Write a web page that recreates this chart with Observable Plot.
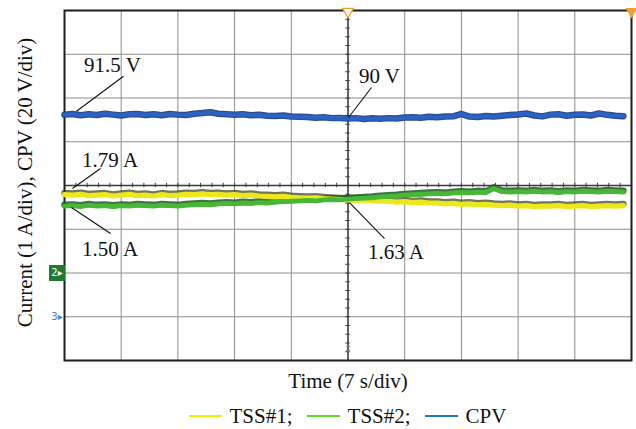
<!DOCTYPE html>
<html><head><meta charset="utf-8">
<script src="https://cdn.jsdelivr.net/npm/d3@7"></script>
<script src="https://cdn.jsdelivr.net/npm/@observablehq/plot@0.6"></script>
<style>
body{margin:0;background:#fff;font-family:"Liberation Serif","Times New Roman",serif;}
#wrap{position:relative;width:636px;height:429px;overflow:hidden;}
#legend{position:absolute;left:64px;width:567px;top:403px;height:26px;display:flex;justify-content:center;align-items:center;font-size:21px;color:#111;font-family:"Liberation Serif","Times New Roman",serif;}
.item{display:flex;align-items:center;margin:0 7px;}
.sw{width:33px;height:2px;margin-right:8px;}
</style></head><body><div id="wrap"><div id="chart"></div><div id="legend"></div></div>
<script>
// ---- data (read from the oscilloscope capture) ----
const sampleStep = 1;            // seconds between samples
const timeDivs = [0, 7, 14, 21, 28, 35, 42, 49, 56, 63, 70];   // 7 s/div
const levelDivs = [0, 1, 2, 3, 4, 5, 6, 7, 8];
const seriesNames = ["TSS#1", "TSS#2", "CPV"];
const seriesColors = ["#f2ec00", "#5fd62a", "#1f74d2"];
// TSS#1 current (A)
const tss1 = [1.79, 1.78, 1.80, 1.77, 1.78, 1.79, 1.76, 1.78, 1.80, 1.77,
              1.78, 1.76, 1.79, 1.77, 1.78, 1.80, 1.79, 1.81, 1.79, 1.80,
              1.78, 1.79, 1.77, 1.78, 1.76, 1.75, 1.74, 1.75, 1.73, 1.72,
              1.71, 1.72, 1.70, 1.69, 1.68, 1.67, 1.66, 1.67, 1.65, 1.64,
              1.64, 1.62, 1.63, 1.61, 1.62, 1.60, 1.60, 1.58, 1.59, 1.57,
              1.58, 1.56, 1.57, 1.55, 1.54, 1.55, 1.53, 1.54, 1.52, 1.53,
              1.53, 1.54, 1.52, 1.53, 1.54, 1.52, 1.53, 1.54, 1.53, 1.54];
// TSS#2 current (A)
const tss2 = [1.53, 1.54, 1.52, 1.55, 1.53, 1.54, 1.52, 1.54, 1.53, 1.55,
              1.54, 1.53, 1.55, 1.54, 1.53, 1.55, 1.56, 1.57, 1.56, 1.58,
              1.59, 1.58, 1.60, 1.59, 1.61, 1.60, 1.62, 1.63, 1.64, 1.65,
              1.66, 1.65, 1.67, 1.68, 1.67, 1.69, 1.70, 1.71, 1.72, 1.74,
              1.75, 1.76, 1.78, 1.79, 1.80, 1.81, 1.82, 1.81, 1.83, 1.84,
              1.83, 1.85, 1.84, 1.93, 1.86, 1.85, 1.86, 1.85, 1.87, 1.85,
              1.86, 1.84, 1.86, 1.85, 1.87, 1.86, 1.85, 1.87, 1.86, 1.85];
// CPV voltage (V)
const cpv = [92.4, 92.7, 92.1, 92.6, 92.2, 92.8, 92.4, 92.0, 92.6, 92.7,
             92.2, 92.6, 92.1, 92.7, 92.4, 92.2, 92.8, 93.1, 93.5, 92.8,
             92.6, 92.3, 92.6, 92.1, 92.3, 91.9, 91.8, 92.0, 91.5, 91.4,
             91.3, 91.0, 91.2, 90.8, 90.9, 90.6, 90.8, 90.4, 90.7, 90.5,
             90.8, 90.6, 91.1, 91.2, 91.0, 91.4, 91.2, 91.5, 91.6, 92.7,
             91.5, 91.3, 91.8, 91.5, 91.9, 92.2, 92.5, 92.9, 92.0, 91.6,
             92.4, 92.6, 91.9, 92.3, 92.5, 92.0, 92.9, 92.3, 91.9, 91.7];
// annotations: label, series, sample index
const annoText = ["91.5 V", "90 V", "1.79 A", "1.50 A", "1.63 A"];
const annoSeries = ["CPV", "CPV", "TSS#1", "TSS#2", "TSS#1"];
const annoIndex = [1, 35, 1, 1, 35];

// ---- layout ----
const W = 636, H = 395, mL = 64, mR = 5, mT = 10, mB = 35;
const font = "'Liberation Serif','Times New Roman',serif";
// pixel offsets from anchor: leader start (sx,sy), leader end (ex,ey), text (tx, baseline ty)
const annoLayout = [
  {sx: 3.9, sy: -2.7, ex: 50.9, ey: -37.7, tx: 11.5, ty: -42},
  {sx: 0.5, sy: -1.1, ex: 23.5, ey: -31.1, tx: 11.0, ty: -35.8},
  {sx: -0.1, sy: -6.6, ex: 27.9, ey: -26.6, tx: 9.5, ty: -28.6},
  {sx: -1.1, sy: 1.9, ex: 37.9, ey: 27.9, tx: 9.5, ty: 49.9},
  {sx: 1.5, sy: 2.6, ex: 36.5, ey: 38.6, tx: 20.0, ty: 58.9}
];

// screen divisions: currents ground at div 2 (1 A/div), CPV ground at div 1 (20 V/div)
const toDiv = {"TSS#1": v => 2 + v, "TSS#2": v => 2 + v, "CPV": v => 1 + v / 20};
const rows = s => (s === "TSS#1" ? tss1 : s === "TSS#2" ? tss2 : cpv)
  .map((v, i) => ({t: i * sampleStep, v, d: toDiv[s](v)}));
const data = Object.fromEntries(seriesNames.map(s => [s, rows(s)]));

const xMin = timeDivs[0], xMax = timeDivs[timeDivs.length - 1];
const sPerPx = (xMax - xMin) / (W - mL - mR);
const dPerPx = (levelDivs[levelDivs.length - 1] - levelDivs[0]) / (H - mT - mB);
const center = {x: timeDivs[5], y: levelDivs[4]};
const minorX = d3.range(xMin, xMax + 0.01, (timeDivs[1] - timeDivs[0]) / 5);
const minorY = d3.range(0, 8.01, 0.2);
const tk = 2.2; // px half tick

const marks = [
  Plot.ruleX(timeDivs.slice(1, -1), {stroke: "#8c8c8c", strokeWidth: 1}),
  Plot.ruleY(levelDivs.slice(1, -1), {stroke: "#8c8c8c", strokeWidth: 1}),
  Plot.ruleX([center.x], {stroke: "#3a3a3a", strokeWidth: 1.4}),
  Plot.ruleY([center.y], {stroke: "#3a3a3a", strokeWidth: 1.4}),
  Plot.ruleX(minorX, {y1: center.y - tk * dPerPx, y2: center.y + tk * dPerPx, stroke: "#3a3a3a", strokeWidth: 1}),
  Plot.ruleY(minorY, {x1: center.x - tk * sPerPx, x2: center.x + tk * sPerPx, stroke: "#3a3a3a", strokeWidth: 1}),
  Plot.frame({stroke: "#1e1e1e", strokeWidth: 2}),
  // trace persistence (dark halo)
  Plot.line(data["TSS#1"], {x: "t", y: "d", stroke: "#3a3a14", strokeWidth: 6.5, dy: -1.6, strokeOpacity: 0.7}),
  Plot.line(data["TSS#2"], {x: "t", y: "d", stroke: "#1d5a1d", strokeWidth: 6.5, dy: -1.2, strokeOpacity: 0.85}),
  Plot.line(data["CPV"], {x: "t", y: "d", stroke: "#163a7a", strokeWidth: 6.5, strokeOpacity: 0.9}),
  Plot.line(data["TSS#1"], {x: "t", y: "d", stroke: "#ece81c", strokeWidth: 5.2}),
  Plot.line(data["TSS#2"], {x: "t", y: "d", stroke: "#46b836", strokeWidth: 4.8}),
  Plot.line(data["CPV"], {x: "t", y: "d", stroke: "#2a62c6", strokeWidth: 4.2}),
  // scope markers
  Plot.dot([center.x], {x: d => d, frameAnchor: "top", symbol: "triangle", rotate: 180, r: 4, stroke: "#f0a030", fill: "#fff", strokeWidth: 1.3, dy: 1}),
  Plot.dot([xMax], {x: d => d, frameAnchor: "top", symbol: "triangle", rotate: 180, r: 4.5, fill: "#f0a030", stroke: "none", dy: 1}),
  Plot.dot([2], {y: d => d, frameAnchor: "left", symbol: "square", r: 9, fill: "#1f7a30", dx: -7.5}),
  Plot.text(["2▸"], {y: () => 2, frameAnchor: "left", textAnchor: "middle", dx: -7.5, fill: "#fff", fontSize: 10, fontFamily: "DejaVu Sans, sans-serif"}),
  Plot.text(["3▸"], {y: () => 1, frameAnchor: "left", textAnchor: "middle", dx: -7.5, fill: "#4a7fd8", fontSize: 10, fontFamily: "DejaVu Sans, sans-serif"}),
  Plot.text(["↕"], {x: () => center.x, frameAnchor: "bottom", dy: -9, fill: "#777", fontSize: 10, fontFamily: "DejaVu Sans, sans-serif"}),
  // axis titles
  Plot.text(["Current (1 A/div), CPV (20 V/div)"], {frameAnchor: "left", textAnchor: "middle", rotate: -90, dx: -39, dy: -3, fontSize: 21, fontFamily: font, fill: "#111"}),
  Plot.text(["Time (7 s/div)"], {frameAnchor: "bottom", lineAnchor: "bottom", dy: 27, fontSize: 21, fontFamily: font, fill: "#111"})
];

annoText.forEach((label, k) => {
  const row = data[annoSeries[k]][annoIndex[k]];
  const L = annoLayout[k];
  marks.push(Plot.link([row], {
    x1: d => d.t + L.sx * sPerPx, y1: d => d.d - L.sy * dPerPx,
    x2: d => d.t + L.ex * sPerPx, y2: d => d.d - L.ey * dPerPx,
    stroke: "#111", strokeWidth: 1.1
  }));
  marks.push(Plot.text([row], {
    x: "t", y: "d", text: () => label, textAnchor: "start", lineAnchor: "bottom",
    dx: L.tx, dy: L.ty, fontSize: 21, fontFamily: font, fill: "#111"
  }));
});

const chart = Plot.plot({
  width: W, height: H,
  marginLeft: mL, marginRight: mR, marginTop: mT, marginBottom: mB,
  x: {domain: [xMin, xMax], axis: null},
  y: {domain: [levelDivs[0], levelDivs[levelDivs.length - 1]], axis: null},
  style: {fontFamily: font, background: "#fff", overflow: "visible"},
  marks
});
document.getElementById("chart").appendChild(chart);

const legend = document.getElementById("legend");
seriesNames.forEach((name, i) => {
  const item = document.createElement("div");
  item.className = "item";
  const sw = document.createElement("span");
  sw.className = "sw";
  sw.style.background = seriesColors[i];
  const lab = document.createElement("span");
  lab.textContent = name + (i < seriesNames.length - 1 ? ";" : "");
  item.appendChild(sw); item.appendChild(lab);
  legend.appendChild(item);
});
</script></body></html>
